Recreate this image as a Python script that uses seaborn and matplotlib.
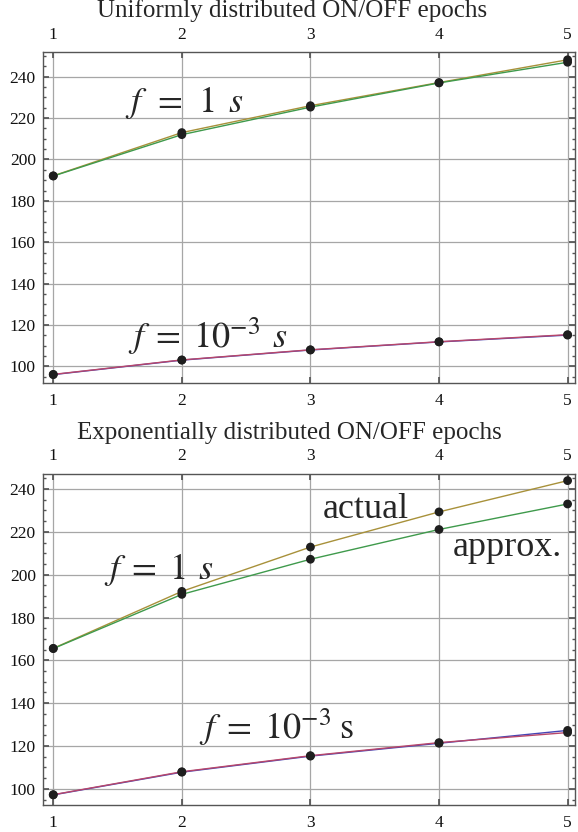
import matplotlib
matplotlib.use("Agg")
import matplotlib.pyplot as plt
from matplotlib.ticker import MultipleLocator
import pandas as pd
import seaborn as sns

# values
x_vals = [1, 2, 3, 4, 5]

uni_actual_1s = [192.1, 213.0, 226.0, 237.2, 248.2]
uni_approx_1s = [192.0, 212.0, 225.3, 237.0, 247.0]
uni_red_1ms = [96.1, 103.1, 108.0, 111.9, 115.3]
uni_blue_1ms = [96.0, 103.0, 107.9, 111.8, 115.1]

exp_actual_1s = [165.6, 192.2, 212.9, 229.3, 243.9]
exp_approx_1s = [165.5, 190.8, 207.2, 221.1, 233.0]
exp_red_1ms = [97.3, 108.0, 115.5, 121.6, 126.3]
exp_blue_1ms = [97.2, 107.8, 115.3, 121.3, 127.3]

titles = ["Uniformly distributed ON/OFF epochs",
          "Exponentially distributed ON/OFF epochs"]
y_ticks = [100, 120, 140, 160, 180, 200, 220, 240]

palette = {"actual": "#a8913a", "approx": "#3f9a4c",
           "red": "#b8476a", "blue": "#4545b5"}

sns.set_theme(style="ticks")
plt.rcParams["font.family"] = ["Liberation Serif", "DejaVu Serif"]
plt.rcParams["mathtext.fontset"] = "stix"


def make_df(actual, approx, red, blue):
    rows = []
    for name, vals in [("actual", actual), ("approx", approx),
                       ("blue", blue), ("red", red)]:
        for xv, yv in zip(x_vals, vals):
            rows.append({"x": xv, "y": yv, "series": name})
    return pd.DataFrame(rows)


def draw_panel(ax, df, ylim):
    sns.lineplot(data=df, x="x", y="y", hue="series", palette=palette,
                 ax=ax, legend=False, linewidth=1.0, zorder=2)
    sns.scatterplot(data=df, x="x", y="y", color="#1e1e1e", s=40,
                    edgecolor="none", ax=ax, legend=False, zorder=3)
    ax.set_xlim(0.918, 5.058)
    ax.set_ylim(*ylim)
    ax.set_xticks(x_vals)
    ax.set_yticks(y_ticks)
    ax.yaxis.set_minor_locator(MultipleLocator(5))
    ax.grid(True, which="major", color="#a6a6a6", linewidth=0.9)
    ax.set_axisbelow(True)
    ax.set_xlabel("")
    ax.set_ylabel("")
    ax.tick_params(which="both", direction="in", top=True, right=True,
                   labeltop=True, labelright=False, colors="#555555",
                   labelcolor="#111111", labelsize=12.5)
    ax.tick_params(axis="x", which="major", length=4, pad=7)
    ax.tick_params(axis="y", which="major", length=4, pad=5)
    ax.tick_params(which="minor", length=2.5)
    for sp in ax.spines.values():
        sp.set_color("#555555")
        sp.set_linewidth(1.0)


fig = plt.figure(figsize=(5.78, 8.32), dpi=100)
ax1 = fig.add_axes([0.0739, 0.5393, 0.921, 0.3978])
ax2 = fig.add_axes([0.0739, 0.0325, 0.921, 0.3978])

draw_panel(ax1, make_df(uni_actual_1s, uni_approx_1s, uni_red_1ms, uni_blue_1ms),
           (91.8, 251.8))
draw_panel(ax2, make_df(exp_actual_1s, exp_approx_1s, exp_red_1ms, exp_blue_1ms),
           (92.5, 247.0))

fig.text(0.505, 0.987, titles[0], ha="center", va="center", fontsize=18)
fig.text(0.500, 0.480, titles[1], ha="center", va="center", fontsize=18)

big = 26
ax1.text(2.02, 223, r"$f\;\,=\;\,1\;\,s$", ha="center", va="baseline", fontsize=big)
ax1.text(2.2, 108.7, r"$f\;=\;10^{-3}\;\,s$", ha="center", va="baseline", fontsize=big)
ax2.text(1.82, 197.8, r"$f\;=\;1\;\,s$", ha="center", va="baseline", fontsize=big)
ax2.text(2.74, 123.1, r"$f\;=\;10^{-3}\;\mathrm{s}$", ha="center", va="baseline", fontsize=big)
ax2.text(3.43, 226.4, "actual", ha="center", va="baseline", fontsize=big)
ax2.text(4.53, 208.7, "approx.", ha="center", va="baseline", fontsize=big)

fig.savefig("out.png", dpi=100)
plt.close(fig)
